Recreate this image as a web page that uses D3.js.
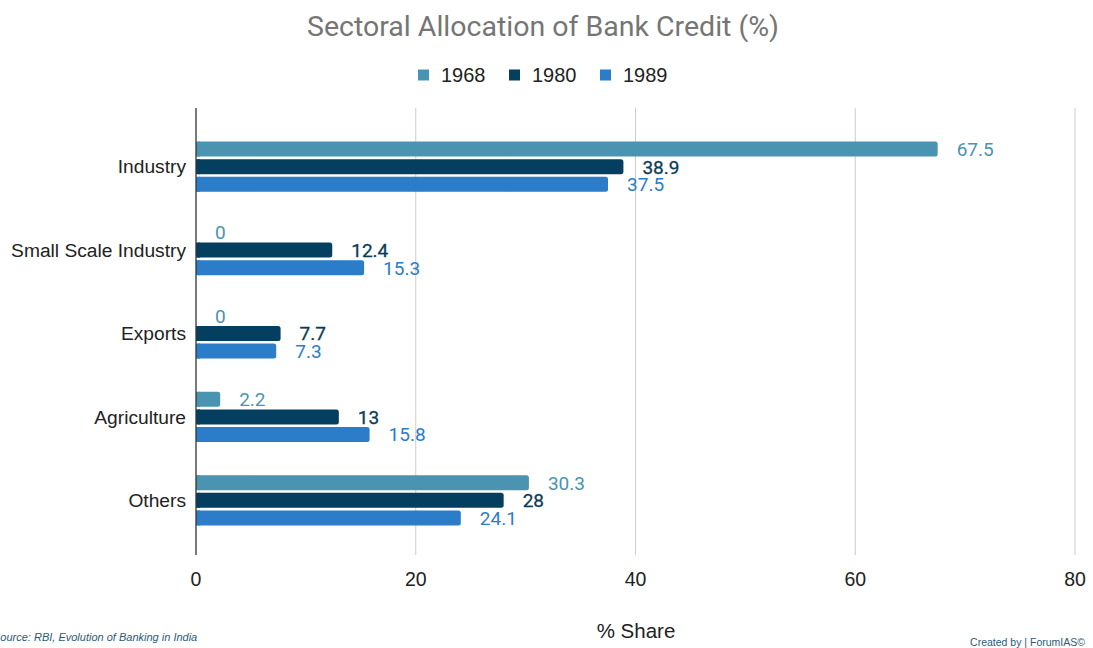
<!DOCTYPE html>
<html>
<head>
<meta charset="utf-8">
<script src="https://cdn.jsdelivr.net/npm/d3@7"></script>
<style>
  body { margin: 0; background: #fff; }
  text { font-family: "Liberation Sans", Arial, Helvetica, sans-serif; }
  .rob { font-family: Roboto, "Noto Sans", sans-serif; }
</style>
</head>
<body>
<div id="chart-area"></div>
<script>
// data
var categories = ["Industry", "Small Scale Industry", "Exports", "Agriculture", "Others"];
var years = ["1968", "1980", "1989"];
var values1968 = [67.5, 0, 0, 2.2, 30.3];
var values1980 = [38.9, 12.4, 7.7, 13, 28];
var values1989 = [37.5, 15.3, 7.3, 15.8, 24.1];
var xTicks = [0, 20, 40, 60, 80];

var colors = ["#4a93b1", "#053f60", "#2b7cc9"];
var labelColors = ["#4a93b1", "#0b3d5a", "#2b7cc9"];

var width = 1093, height = 648;
var margin = { top: 108, bottom: 93, left: 196, right: 18 };
var plotW = width - margin.left - margin.right;   // 879
var plotH = height - margin.top - margin.bottom;

var svg = d3.select("#chart-area")
  .append("svg")
  .attr("width", width)
  .attr("height", height);

var series = years.map(function(y, i) {
  var vals = [values1968, values1980, values1989][i];
  return { year: y, color: colors[i], labelColor: labelColors[i],
           values: categories.map(function(c, j) { return { cat: c, v: vals[j] }; }) };
});

var x = d3.scaleLinear().domain([0, 80]).range([0, plotW]);
var y = d3.scaleBand().domain(categories).range([17, 434]);
var barH = 15, step = 17.6;

var g = svg.append("g")
  .attr("transform", "translate(" + margin.left + "," + margin.top + ")");

// gridlines
g.selectAll(".grid")
  .data(xTicks.slice(1))
  .enter().append("line")
  .attr("x1", function(d) { return x(d); })
  .attr("x2", function(d) { return x(d); })
  .attr("y1", 0).attr("y2", plotH)
  .attr("stroke", "#cccccc").attr("stroke-width", 1);

// bars
series.forEach(function(s, i) {
  var off = (i - 1) * step - barH / 2;
  var nonZero = s.values.filter(function(d) { return d.v > 0; });
  g.selectAll(".bar" + i)
    .data(nonZero)
    .enter().append("rect")
    .attr("x", 0)
    .attr("y", function(d) { return y(d.cat) + y.bandwidth() / 2 + off; })
    .attr("width", function(d) { return x(d.v); })
    .attr("height", barH)
    .attr("rx", 2.5)
    .attr("fill", s.color);
  // square off the left ends
  g.selectAll(".barl" + i)
    .data(nonZero)
    .enter().append("rect")
    .attr("x", 0)
    .attr("y", function(d) { return y(d.cat) + y.bandwidth() / 2 + off; })
    .attr("width", function(d) { return Math.min(4, x(d.v)); })
    .attr("height", barH)
    .attr("fill", s.color);

  g.selectAll(".lab" + i)
    .data(s.values)
    .enter().append("text")
    .attr("class", "rob")
    .attr("x", function(d) { return x(d.v) + 19; })
    .attr("y", function(d) { return y(d.cat) + y.bandwidth() / 2 + off + barH / 2; })
    .attr("dy", "0.36em")
    .attr("font-size", 19)
    .attr("fill", s.labelColor)
    .attr("stroke", i == 1 ? s.labelColor : "none")
    .attr("stroke-width", 0.3)
    .text(function(d) { return d.v; });
});

// baseline axis
g.append("line")
  .attr("x1", 0).attr("x2", 0)
  .attr("y1", 0).attr("y2", plotH)
  .attr("stroke", "#333").attr("stroke-width", 1.3);

// category labels
g.selectAll(".cat")
  .data(categories)
  .enter().append("text")
  .attr("x", -10)
  .attr("y", function(d) { return y(d) + y.bandwidth() / 2; })
  .attr("dy", "0.35em")
  .attr("text-anchor", "end")
  .attr("font-size", 19.2)
  .attr("fill", "#222")
  .text(function(d) { return d; });

// x tick labels
g.selectAll(".tick")
  .data(xTicks)
  .enter().append("text")
  .attr("x", function(d) { return x(d); })
  .attr("y", plotH + 24)
  .attr("dy", "0.35em")
  .attr("text-anchor", "middle")
  .attr("font-size", 19.5)
  .attr("fill", "#222")
  .text(function(d) { return d; });

// title
svg.append("text")
  .attr("class", "rob")
  .attr("x", 543).attr("y", 26)
  .attr("dy", "0.35em")
  .attr("text-anchor", "middle")
  .attr("font-size", 28.5)
  .attr("fill", "#757575")
  .text("Sectoral Allocation of Bank Credit (%)");

// legend
var legendX = [418, 509, 600];
var legend = svg.selectAll(".legend")
  .data(series)
  .enter().append("g")
  .attr("transform", function(d, i) { return "translate(" + legendX[i] + ",75)"; });
legend.append("rect")
  .attr("x", 0).attr("y", -5.5)
  .attr("width", 11).attr("height", 11)
  .attr("fill", function(d) { return d.color; });
legend.append("text")
  .attr("x", 23).attr("y", 0)
  .attr("dy", "0.36em")
  .attr("font-size", 20)
  .attr("fill", "#222")
  .text(function(d) { return d.year; });

// axis title
svg.append("text")
  .attr("x", 636).attr("y", 631)
  .attr("dy", "0.35em")
  .attr("text-anchor", "middle")
  .attr("font-size", 20.5)
  .attr("fill", "#222")
  .text("% Share");

// footnotes
svg.append("text")
  .attr("x", -7).attr("y", 637)
  .attr("dy", "0.35em")
  .attr("font-size", 11)
  .attr("font-style", "italic")
  .attr("fill", "#2a5b78")
  .text("Source: RBI, Evolution of Banking in India");

svg.append("text")
  .attr("x", 1085).attr("y", 642)
  .attr("dy", "0.35em")
  .attr("text-anchor", "end")
  .attr("font-size", 10.5)
  .attr("fill", "#2a5b78")
  .text("Created by | ForumIAS©");
</script>
</body>
</html>
